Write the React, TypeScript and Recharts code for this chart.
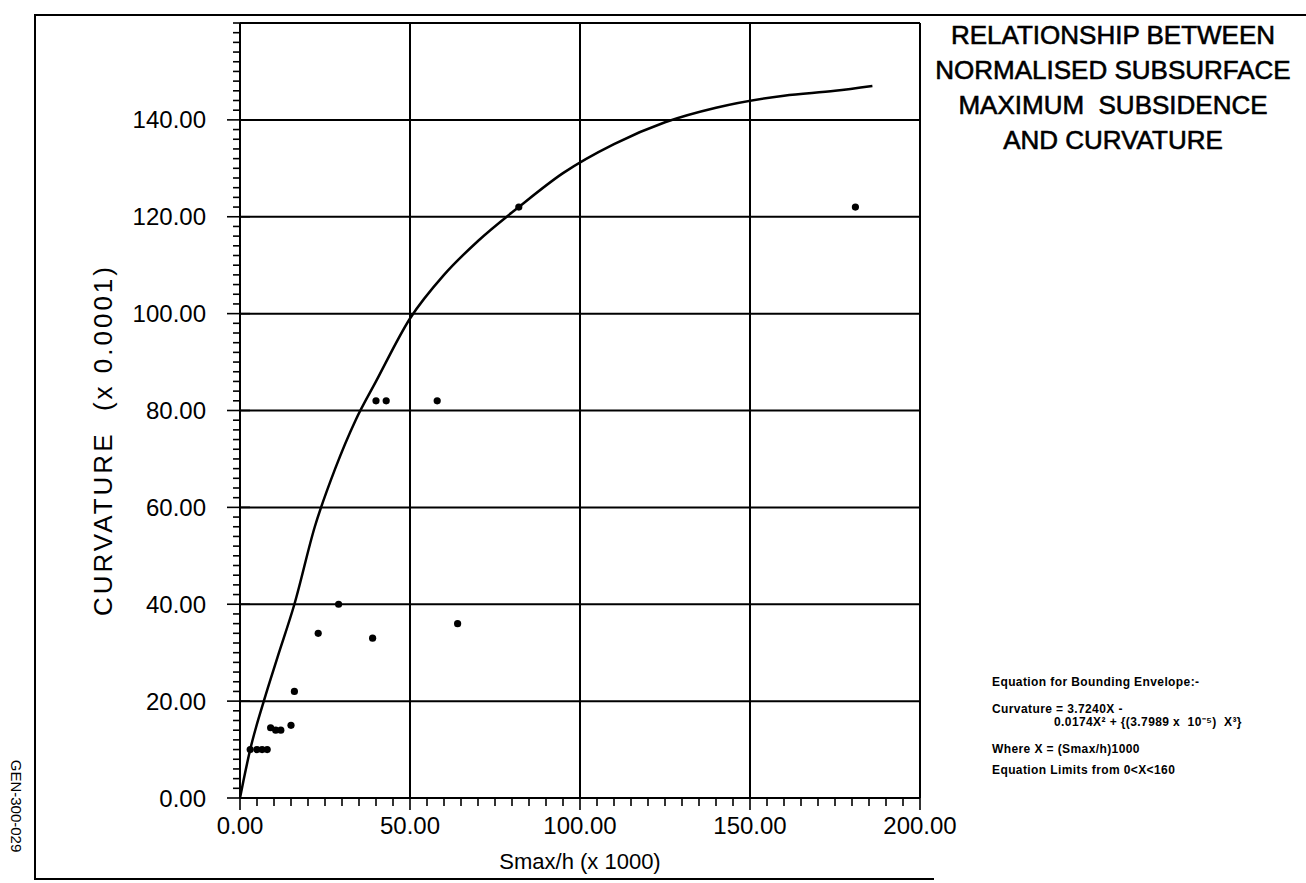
import React from 'react';
import { ComposedChart, XAxis, YAxis, Line, Scatter, ReferenceLine } from 'recharts';

// Bounding envelope curve
const curveX = [0, 1, 3, 7, 11, 16, 22, 28, 34, 40, 50, 60, 70, 82, 95, 110, 125, 140, 160, 175, 186];
const curveY = [0, 3.5, 10, 20, 29, 40, 56, 68, 78, 86, 99, 108, 115, 122, 129, 135, 139.5, 142.5, 145, 146, 147];

const obsX = [3, 5, 6.5, 8, 9, 10.5, 12, 15, 16, 23, 29, 39, 40, 43, 58, 64, 82, 181];
const obsY = [10, 10, 10, 10, 14.5, 14, 14, 15, 22, 34, 40, 33, 82, 82, 82, 36, 122, 122];

const xMajor = [0, 50, 100, 150, 200];
const yMajor = [0, 20, 40, 60, 80, 100, 120, 140];
const xGrid = [50, 100, 150, 200];
const yGrid = [20, 40, 60, 80, 100, 120, 140, 160];
const xMinorStep = 5;
const yMinorStep = 2;

const titleLines = ['RELATIONSHIP BETWEEN', 'NORMALISED SUBSURFACE', 'MAXIMUM  SUBSIDENCE', 'AND CURVATURE'];
const eqLines = [
  'Equation for Bounding Envelope:-',
  'Curvature = 3.7240X -',
  '0.0174X\u00B2 + {(3.7989 x  10\u207B\u2075)  X\u00B3}',
  'Where X = (Smax/h)1000',
  'Equation Limits from 0<X<160',
];

const curveData = curveX.map((x, i) => ({ x, y: curveY[i] }));
const obsData = obsX.map((x, i) => ({ x, y: obsY[i] }));

const xTicks: number[] = [];
for (let v = 0; v <= 200; v += xMinorStep) xTicks.push(v);
const yTicks: number[] = [];
for (let v = 0; v <= 160; v += yMinorStep) yTicks.push(v);

const W = 1306;
const H = 883;
const FONT = '"Liberation Sans", Arial, Helvetica, sans-serif';

const XTick = (p: any) => {
  const { x, y, payload } = p;
  const v = payload.value as number;
  const major = xMajor.includes(v);
  return (
    <g>
      <line x1={x} x2={x} y1={y} y2={y + (major ? 12 : 8)} stroke="#000" strokeWidth={1.6} />
      {major && (
        <text x={x} y={y + 36} textAnchor="middle" fontSize={24} fontFamily={FONT} fill="#000">
          {v.toFixed(2)}
        </text>
      )}
    </g>
  );
};

const YTick = (p: any) => {
  const { x, y, payload } = p;
  const v = payload.value as number;
  const major = yMajor.includes(v);
  return (
    <g>
      <line x1={major ? x - 13 : x - 7} x2={major ? x + 10 : x} y1={y} y2={y} stroke="#000" strokeWidth={1.6} />
      {major && (
        <text x={x - 34} y={y} textAnchor="end" dominantBaseline="central" fontSize={24} fontFamily={FONT} fill="#000">
          {v.toFixed(2)}
        </text>
      )}
    </g>
  );
};

const Dot = (p: any) => <circle cx={p.cx} cy={p.cy} r={3.6} fill="#000" />;

export default function App() {
  return (
    <div style={{ position: 'relative', width: W, height: H, background: '#fff', fontFamily: FONT, overflow: 'hidden' }}>
      <style>{`body{margin:0;background:#fff}`}</style>
      <ComposedChart width={W} height={H} margin={{ top: 23, right: 386, bottom: 0, left: 0 }}>
        <XAxis
          type="number"
          dataKey="x"
          domain={[0, 200]}
          ticks={xTicks}
          interval={0}
          tick={(p: any) => <XTick {...p} />}
          tickLine={false}
          tickSize={0}
          tickMargin={0}
          axisLine={{ stroke: '#000', strokeWidth: 2 }}
          height={85}
          allowDataOverflow
        />
        <YAxis
          type="number"
          dataKey="y"
          domain={[0, 160]}
          ticks={yTicks}
          interval={0}
          tick={(p: any) => <YTick {...p} />}
          tickLine={false}
          tickSize={0}
          tickMargin={0}
          axisLine={{ stroke: '#000', strokeWidth: 2 }}
          width={240}
          allowDataOverflow
        />
        {xGrid.map((v) => (
          <ReferenceLine key={'gx' + v} x={v} stroke="#000" strokeWidth={2} ifOverflow="extendDomain" />
        ))}
        {yGrid.map((v) => (
          <ReferenceLine key={'gy' + v} y={v} stroke="#000" strokeWidth={2} ifOverflow="extendDomain" />
        ))}
        <Line
          data={curveData}
          dataKey="y"
          type="monotone"
          stroke="#000"
          strokeWidth={2.5}
          dot={false}
          activeDot={false}
          isAnimationActive={false}
        />
        <Scatter data={obsData} dataKey="y" shape={Dot} isAnimationActive={false} />
      </ComposedChart>

      {/* outer frame */}
      <div style={{ position: 'absolute', left: 34, top: 14, width: W - 34, height: 2, background: '#000' }} />
      <div style={{ position: 'absolute', left: 34, top: 14, width: 2, height: 866, background: '#000' }} />
      <div style={{ position: 'absolute', left: 34, top: 878, width: 900, height: 2, background: '#000' }} />

      {/* title */}
      {titleLines.map((t, i) => (
        <div
          key={t}
          style={{
            position: 'absolute',
            left: 920,
            width: 386,
            top: 21 + i * 35,
            textAlign: 'center',
            fontSize: 26,
            lineHeight: '28px',
            whiteSpace: 'pre',
            color: '#000',
            WebkitTextStroke: '0.6px #000',
          }}
        >
          {t}
        </div>
      ))}

      {/* equation */}
      <div style={{ position: 'absolute', left: 992, top: 676, fontSize: 12, fontWeight: 'bold', whiteSpace: 'pre', lineHeight: '13px', letterSpacing: 0.4 }}>
        <div>{eqLines[0]}</div>
        <div style={{ marginTop: 14 }}>{eqLines[1]}</div>
        <div style={{ marginLeft: 62 }}>{eqLines[2]}</div>
        <div style={{ marginTop: 14 }}>{eqLines[3]}</div>
        <div style={{ marginTop: 8 }}>{eqLines[4]}</div>
      </div>

      {/* axis titles */}
      <div
        style={{
          position: 'absolute',
          left: 103,
          top: 440,
          transform: 'translate(-50%,-50%) rotate(-90deg)',
          fontSize: 26,
          whiteSpace: 'pre',
          letterSpacing: 3,
        }}
      >
        {'CURVATURE  (x 0.0001)'}
      </div>
      <div
        style={{ position: 'absolute', left: 580, top: 862, transform: 'translate(-50%,-50%)', fontSize: 22, whiteSpace: 'pre' }}
      >
        {'Smax/h (x 1000)'}
      </div>
      <div
        style={{ position: 'absolute', left: 16, top: 806, transform: 'translate(-50%,-50%) rotate(90deg)', fontSize: 15, whiteSpace: 'pre' }}
      >
        {'GEN-300-029'}
      </div>
    </div>
  );
}
